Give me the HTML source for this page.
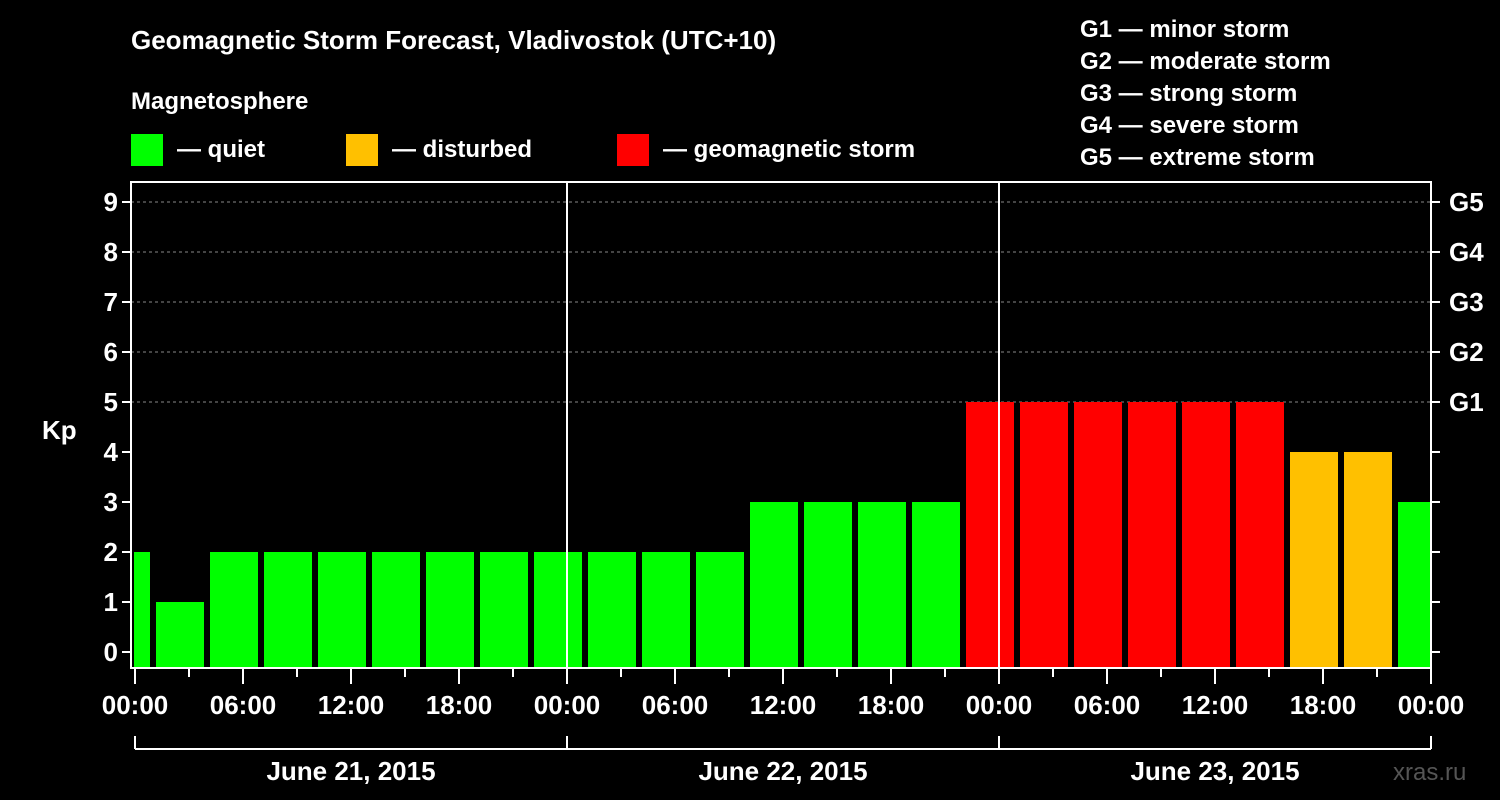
<!DOCTYPE html>
<html><head><meta charset="utf-8"><style>
body{margin:0;background:#000;}
svg{display:block;font-family:"Liberation Sans",Arial,sans-serif;font-weight:bold;}
</style></head><body>
<svg id="c" width="1500" height="800" viewBox="0 0 1500 800">
<rect width="1500" height="800" fill="#000"/>
<text x="131" y="49" fill="#fff" font-size="26">Geomagnetic Storm Forecast, Vladivostok (UTC+10)</text>
<text x="131" y="109" fill="#fff" font-size="24">Magnetosphere</text>
<g><rect x="131" y="134" width="32" height="32" fill="#00ff00"/><text x="177" y="157" fill="#fff" font-size="24">— quiet</text></g>
<g><rect x="346" y="134" width="32" height="32" fill="#ffc000"/><text x="392" y="157" fill="#fff" font-size="24">— disturbed</text></g>
<g><rect x="617" y="134" width="32" height="32" fill="#ff0000"/><text x="663" y="157" fill="#fff" font-size="24">— geomagnetic storm</text></g>
<g fill="#fff" font-size="24">
<text x="1080" y="37">G1 — minor storm</text>
<text x="1080" y="69">G2 — moderate storm</text>
<text x="1080" y="101">G3 — strong storm</text>
<text x="1080" y="133">G4 — severe storm</text>
<text x="1080" y="165">G5 — extreme storm</text>
</g>
<text x="42" y="439" fill="#fff" font-size="26">Kp</text>
<text x="1393" y="780" fill="#555" font-size="24" font-weight="normal">xras.ru</text>
<g id="plot"></g>
</svg>
<script>
const kpValues=[2,1,2,2,2,2,2,2,2,2,2,2,3,3,3,3,5,5,5,5,5,5,4,4,3];
const yTicks=[0,1,2,3,4,5,6,7,8,9];
const gLabels=["G1","G2","G3","G4","G5"];
const hourLabels=["00:00","06:00","12:00","18:00"];
const dayLabels=["June 21, 2015","June 22, 2015","June 23, 2015"];
const ns="http://www.w3.org/2000/svg";
const g=document.getElementById('plot');
const L=131,R=1431,T=182,B=668,X0=135,PXH=18;
const y=v=>652-50*v;
const x=h=>X0+PXH*h;
function mk(t,a,p){const e=document.createElementNS(ns,t);for(const k in a)e.setAttribute(k,a[k]);(p||g).appendChild(e);return e;}
// grid
[5,6,7,8,9].forEach(v=>{mk('line',{x1:L,x2:R,y1:y(v),y2:y(v),stroke:'#888','stroke-dasharray':'3,3','stroke-width':1});});
// clip
const defs=mk('defs',{});const cp=mk('clipPath',{id:'cl'},defs);mk('rect',{x:L+3,y:T,width:R-L-3,height:B-T},cp);
const bars=mk('g',{'clip-path':'url(#cl)'});
kpValues.forEach((v,i)=>{
 const c=x(-0.5+3*i);
 const col=v>=5?'#ff0000':(v>=4?'#ffc000':'#00ff00');
 const r=mk('rect',{x:c-24,y:y(v),width:48,height:B-1-y(v),fill:col},bars);
 
 
});
// day separators
[1,2].forEach(d=>mk('line',{x1:x(24*d),x2:x(24*d),y1:T,y2:B,stroke:'#fff','stroke-width':2}));
// frame
mk('rect',{x:L,y:T,width:R-L,height:B-T,fill:'none',stroke:'#fff','stroke-width':2});
// y ticks
yTicks.forEach(v=>{
 mk('line',{x1:L-9,x2:L,y1:y(v),y2:y(v),stroke:'#fff','stroke-width':2});
 mk('line',{x1:R,x2:R+9,y1:y(v),y2:y(v),stroke:'#fff','stroke-width':2});
 const t=mk('text',{x:L-13,y:y(v)+9,fill:'#fff','font-size':26,'text-anchor':'end'});t.textContent=v;
 
 
});
gLabels.forEach((s,i)=>{const t=mk('text',{x:R+18,y:y(5+i)+9,fill:'#fff','font-size':26});t.textContent=s;
 
 });
// x ticks
for(let h=0;h<=72;h+=3){
 const major=h%6===0;
 mk('line',{x1:x(h),x2:x(h),y1:B,y2:B+(major?16:9),stroke:'#fff','stroke-width':2});
 if(major){const t=mk('text',{x:x(h),y:B+46,fill:'#fff','font-size':26,'text-anchor':'middle'});t.textContent=hourLabels[(h/6)%4];
  
  }
}
// day brackets
mk('line',{x1:x(0),x2:x(72),y1:749,y2:749,stroke:'#fff','stroke-width':2});
[0,1,2,3].forEach(d=>mk('line',{x1:x(24*d),x2:x(24*d),y1:736,y2:749,stroke:'#fff','stroke-width':2}));
dayLabels.forEach((s,d)=>{const t=mk('text',{x:x(24*d+12),y:780,fill:'#fff','font-size':26,'text-anchor':'middle'});t.textContent=s;
 
 });
</script>
</body></html>
